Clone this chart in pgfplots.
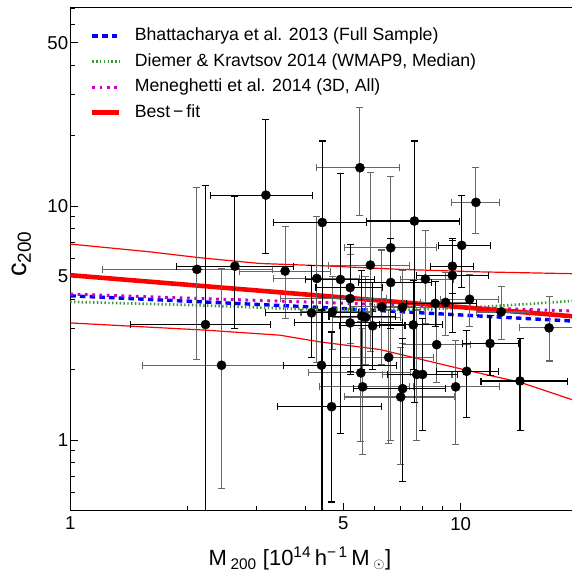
\documentclass[border=0pt]{standalone}
\usepackage{pgfplots}
\pgfplotsset{compat=1.18}
\usepackage{pgfplotstable}
\usepackage{fontspec}
\setmainfont{Liberation Sans}
\definecolor{dkgreen}{RGB}{60,150,60}
\definecolor{mag}{RGB}{200,0,200}
\definecolor{bargray}{gray}{0.40}

\pgfplotstableread{
x y xlo xhi ylo yhi
2.22 3.12 1.43 3.25 0.3 12.23
2.64 5.54 1.87 3.74 2.99 11.05
3.17 11.15 2.29 4.18 6.30 23.5
4.15 3.50 3.16 5.46 2.25 5.6
4.40 2.09 3.51 6.85 0.3 3.6
4.42 8.52 3.32 5.74 0.3 19.0
4.67 1.39 3.39 6.27 0.544 2.9
4.92 4.86 4.0 6.0 1.07 13.8
5.21 4.49 4.26 6.31 1.96 6.84
5.21 3.17 3.76 7.11 1.9 4.6
5.58 3.39 4.6 6.8 2.0 5.3
5.95 3.08 4.9 7.2 2.0 4.7
6.62 4.72 5.47 8.43 3.0 7.3
7.10 1.66 5.3 9.15 0.667 2.72
7.56 3.11 6.2 9.0 2.0 4.8
7.61 8.64 5.74 9.92 1.45 19.0
7.99 1.91 6.5 9.8 1.1 3.3
8.60 3.84 7.27 10.99 3.05 4.75
9.52 5.54 8.39 10.77 4.24 7.11
9.52 5.06 7.72 11.77 2.89 7.27
10.06 6.80 8.76 11.94 4.49 11.08
10.36 1.97 8.68 12.5 1.245 2.95
11.89 2.59 10.1 14.04 1.89 3.42
14.19 1.79 11.27 18.76 1.095 2.72
}\blackpts

\pgfplotstableread{
x y xlo xhi ylo yhi
2.11 5.37 1.21 3.29 2.22 12.0
2.44 2.09 1.53 3.51 0.621 5.42
3.55 5.28 2.71 4.65 3.31 8.20
4.28 4.91 3.31 5.52 2.15 9.0
4.69 3.53 3.9 5.9 2.45 5.0
5.21 4.03 3.45 6.47 2.6 6.2
5.52 14.6 4.28 6.97 9.16 26.4
5.55 1.94 4.07 7.42 0.99 3.2
5.61 1.69 4.34 7.4 0.868 3.0
5.71 3.35 4.7 7.0 2.1 5.0
5.87 5.60 4.58 7.39 2.4 13.95
6.28 3.71 5.2 7.6 2.1 6.5
6.54 2.26 4.91 8.52 0.967 3.6
6.62 6.64 5.03 8.68 1.0 13.45
7.02 1.53 5.05 9.67 0.786 2.5
7.09 3.70 6.0 8.4 2.6 5.3
7.72 1.91 6.3 9.5 1.0 3.6
8.12 4.88 7.0 9.6 3.15 7.85
8.68 2.56 7.08 10.58 1.76 3.9
9.15 3.88 7.9 10.6 2.79 5.21
9.71 1.69 7.56 12.6 0.958 2.67
10.54 4.0 8.89 12.49 3.05 5.12
10.94 10.38 9.48 12.56 7.65 14.65
12.69 3.53 11.0 15.0 2.70 4.53
16.84 3.02 14.13 20.05 2.18 4.10
}\greypts

\newcommand\tickfont{\fontsize{18.6}{22}\selectfont}
\newcommand\labfont{\fontsize{22}{26}\selectfont}
\newcommand\ylabfont{\fontsize{27}{30}\selectfont}
\newcommand\legfont{\fontsize{17.7}{20}\selectfont}

\begin{document}
\begin{tikzpicture}
\begin{axis}[
  scale only axis, width=507.9pt, height=503.3pt,
  xmode=log, ymode=log,
  xmin=1, xmax=20, ymin=0.5, ymax=70.8,
  xtick={1,5,10}, xticklabels={1,5,10},
  minor xtick={2,3,4,6,7,8,9},
  ytick={1,5,10,50}, yticklabels={1,5,10,50},
  minor ytick={0.6,0.7,0.8,0.9,2,3,4,6,7,8,9,20,30,40,60,70},
  xtick pos=bottom, ytick pos=left,
  tick align=inside,
  major tick length=8pt, minor tick length=4.5pt,
  every tick/.style={black, line width=0.9pt},
  axis line style={line width=1.5pt},
  xticklabel style={font=\tickfont, yshift=-3pt},
  yticklabel style={font=\tickfont, xshift=1.4pt},
  xlabel={M\,\textsubscript{200} [10\textsuperscript{14}\,h\textsuperscript{−\,1}\,M\,\textsubscript{$\odot$}]},
  ylabel={c\textsubscript{200}},
  xlabel style={font=\labfont, at={(axis description cs:0.452,-0.109)}, anchor=base},
  ylabel style={font=\ylabfont, at={(axis description cs:-0.0965,0.51)}, anchor=center},
  legend cell align=left,
  legend image code/.code={\draw[#1] (0pt,0pt) -- (27pt,0pt);},
  legend style={at={(axis description cs:0,1)}, anchor=north west,
    xshift=19.7pt, yshift=-18pt, draw=none, fill=none, inner sep=0pt,
    font=\legfont, row sep=4.6pt, column sep=11pt,
    nodes={inner sep=2pt, text height=13pt, text depth=4pt}},
]
\addplot[blue, line width=3.4pt, dash pattern=on 5.5pt off 4.2pt] coordinates {(1,4.14) (4.3,3.70) (20,3.22)};
\addlegendentry{Bhattacharya et al. 2013 (Full Sample)}
\addplot[dkgreen, line width=2.7pt, dash pattern=on 1.4pt off 2.4pt] coordinates {(1,3.90) (2.06,3.78) (3.44,3.66) (4.28,3.62) (7.5,3.61) (11.2,3.71) (14.6,3.81) (20,3.95)};
\addlegendentry{Diemer \& Kravtsov 2014 (WMAP9, Median)}
\addplot[mag, line width=3pt, dash pattern=on 2.7pt off 4.6pt] coordinates {(1,4.21) (20,3.56)};
\addlegendentry{Meneghetti et al. 2014 (3D, All)}
\addplot[red, line width=4.6pt] coordinates {(1,5.07) (20,3.37)};
\addlegendentry{Best\,−\,fit}

\addplot[red, line width=1.2pt, forget plot] coordinates {(1,6.89) (1.6,6.38) (2.15,6.02) (3.06,5.69) (4.36,5.57) (6.99,5.37) (11.2,5.24) (20,5.14)};
\addplot[red, line width=1.2pt, forget plot] coordinates {(1,3.17) (2.24,2.95) (3.44,2.81) (4.36,2.63) (6.21,2.44) (10.36,1.99) (14.17,1.77) (20,1.46)};

\addplot[only marks, mark=*, mark size=4.6pt, black, forget plot,
  error bars/.cd, x dir=both, x explicit, y dir=both, y explicit,
  error bar style={line width=1.1pt, bargray},
  error mark options={rotate=90, mark size=3.5pt, line width=1.1pt, bargray}]
  table[x=x, y=y,
    x error plus expr=\thisrow{xhi}-\thisrow{x}, x error minus expr=\thisrow{x}-\thisrow{xlo},
    y error plus expr=\thisrow{yhi}-\thisrow{y}, y error minus expr=\thisrow{y}-\thisrow{ylo}] {\greypts};
\addplot[only marks, mark=*, mark size=4.6pt, black, forget plot,
  error bars/.cd, x dir=both, x explicit, y dir=both, y explicit,
  error bar style={line width=1.1pt, black},
  error mark options={rotate=90, mark size=3.5pt, line width=1.1pt, black}]
  table[x=x, y=y,
    x error plus expr=\thisrow{xhi}-\thisrow{x}, x error minus expr=\thisrow{x}-\thisrow{xlo},
    y error plus expr=\thisrow{yhi}-\thisrow{y}, y error minus expr=\thisrow{y}-\thisrow{ylo}] {\blackpts};
\end{axis}
\pgfresetboundingbox
\path[use as bounding box] ([xshift=-70.3pt,yshift=-65.4pt]current axis.south west) rectangle ([xshift=500.7pt,yshift=7.3pt]current axis.north west);
\end{tikzpicture}
\end{document}
